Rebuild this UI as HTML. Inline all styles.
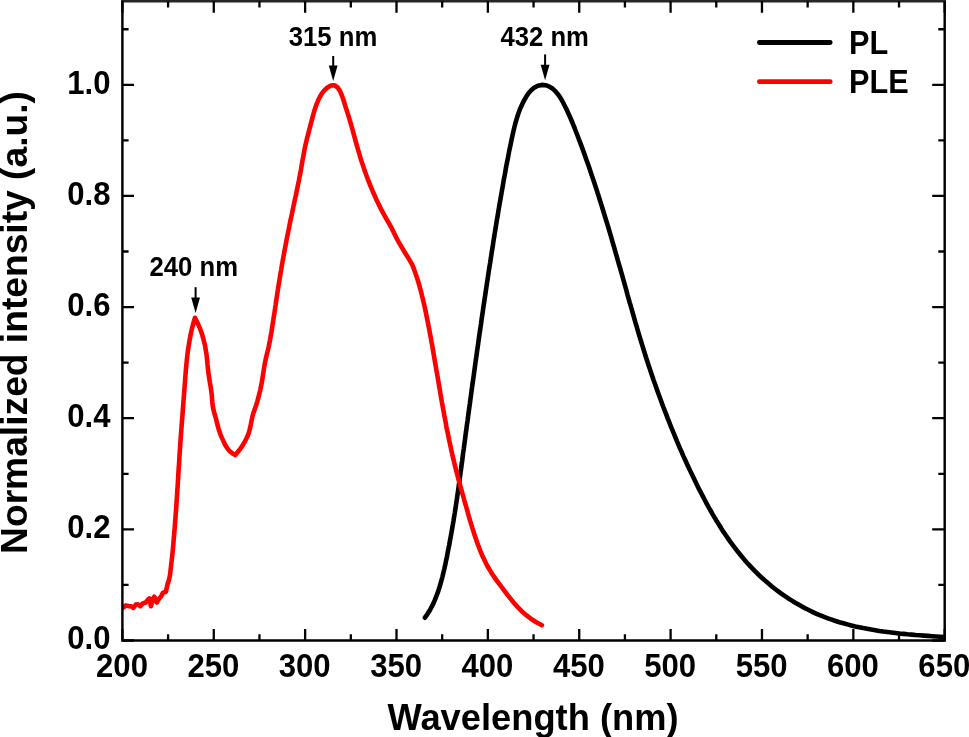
<!DOCTYPE html>
<html><head><meta charset="utf-8"><title>PL / PLE spectra</title>
<style>
html,body{margin:0;padding:0;background:#fff;}
body{width:969px;height:737px;overflow:hidden;}
svg{display:block;will-change:transform;}
text{font-family:"Liberation Sans",sans-serif;font-weight:bold;fill:#000;}
</style></head><body>
<svg width="969" height="737" viewBox="0 0 969 737">
<rect width="969" height="737" fill="#fff"/>
<clipPath id="plot"><rect x="122.4" y="1.2" width="822.30" height="639.30"/></clipPath>
<g clip-path="url(#plot)">
<polyline points="424.9,617.7 427.3,614.3 429.5,610.8 431.5,607.2 433.3,603.6 434.9,599.9 436.4,596.2 437.8,592.4 439.1,588.6 440.2,584.8 441.3,580.9 442.4,577.0 443.3,573.0 444.3,569.1 445.2,565.1 446.0,561.1 446.9,557.1 447.6,553.0 448.4,549.0 449.2,545.0 449.9,541.0 450.7,536.9 451.4,532.9 452.1,528.9 452.8,524.9 453.5,520.9 454.1,516.8 454.8,512.8 455.4,508.8 456.0,504.8 456.6,500.8 457.2,496.8 457.8,492.7 458.4,488.7 458.9,484.7 459.5,480.7 460.0,476.7 460.5,472.6 461.1,468.6 461.6,464.6 462.2,460.6 462.7,456.5 463.2,452.5 463.8,448.5 464.3,444.5 464.9,440.4 465.4,436.4 465.9,432.4 466.5,428.3 467.0,424.3 467.6,420.3 468.1,416.2 468.7,412.2 469.2,408.1 469.8,404.1 470.3,400.1 470.9,396.0 471.4,392.0 472.0,387.9 472.5,383.9 473.1,379.9 473.7,375.8 474.2,371.8 474.8,367.7 475.3,363.7 475.9,359.7 476.5,355.6 477.0,351.6 477.6,347.6 478.2,343.5 478.7,339.5 479.3,335.4 479.9,331.4 480.5,327.4 481.1,323.4 481.6,319.3 482.2,315.3 482.8,311.3 483.4,307.2 484.0,303.2 484.6,299.2 485.2,295.2 485.8,291.2 486.4,287.1 487.0,283.1 487.6,279.1 488.2,275.1 488.8,271.1 489.4,267.1 490.1,263.1 490.7,259.1 491.3,255.1 491.9,251.1 492.6,247.0 493.2,243.0 493.8,239.0 494.5,235.0 495.1,231.0 495.8,227.0 496.4,223.0 497.1,219.0 497.8,215.0 498.4,211.0 499.1,206.9 499.8,202.9 500.5,198.9 501.2,194.8 501.9,190.8 502.6,186.8 503.3,182.7 504.0,178.7 504.8,174.6 505.5,170.6 506.2,166.5 507.0,162.5 507.8,158.5 508.6,154.4 509.3,150.4 510.2,146.4 511.0,142.5 511.8,138.5 512.7,134.6 513.6,130.6 514.5,126.8 515.5,122.9 516.6,119.1 517.8,115.3 519.1,111.5 520.6,107.7 522.3,104.0 524.1,100.4 526.2,96.8 528.5,93.3 531.2,90.2 534.3,87.6 537.9,85.8 541.8,84.9 545.7,85.2 549.4,86.6 552.8,88.8 555.8,91.7 558.5,94.9 560.8,98.4 562.8,102.0 564.7,105.7 566.5,109.3 568.2,113.0 569.9,116.7 571.5,120.5 573.0,124.2 574.6,128.0 576.0,131.7 577.5,135.5 578.9,139.3 580.4,143.1 581.8,146.9 583.2,150.8 584.6,154.6 585.9,158.4 587.3,162.3 588.7,166.1 590.0,170.0 591.3,173.9 592.6,177.8 593.9,181.6 595.2,185.5 596.5,189.4 597.7,193.3 599.0,197.2 600.2,201.1 601.4,204.9 602.6,208.8 603.8,212.7 605.0,216.6 606.2,220.5 607.4,224.4 608.6,228.3 609.7,232.2 610.9,236.2 612.0,240.1 613.1,244.0 614.3,247.9 615.4,251.8 616.5,255.7 617.6,259.6 618.7,263.5 619.9,267.4 621.0,271.3 622.1,275.2 623.2,279.1 624.3,283.1 625.4,287.0 626.5,290.9 627.5,294.8 628.6,298.7 629.7,302.6 630.9,306.5 632.0,310.4 633.1,314.3 634.2,318.2 635.3,322.1 636.5,326.0 637.6,329.9 638.7,333.7 639.9,337.6 641.1,341.5 642.3,345.4 643.5,349.3 644.7,353.1 645.9,357.0 647.2,360.9 648.4,364.7 649.7,368.6 651.0,372.5 652.3,376.3 653.6,380.2 655.0,384.0 656.3,387.8 657.7,391.7 659.1,395.5 660.5,399.3 661.9,403.2 663.3,407.0 664.8,410.8 666.3,414.6 667.7,418.4 669.2,422.2 670.7,426.0 672.3,429.8 673.8,433.5 675.4,437.3 676.9,441.1 678.5,444.8 680.1,448.6 681.8,452.3 683.4,456.1 685.1,459.8 686.8,463.5 688.5,467.2 690.2,470.9 692.0,474.6 693.8,478.3 695.6,482.0 697.4,485.7 699.2,489.4 701.1,493.0 703.0,496.6 704.9,500.3 706.8,503.9 708.8,507.5 710.8,511.0 712.8,514.6 714.9,518.1 717.0,521.6 719.2,525.0 721.3,528.5 723.5,531.9 725.8,535.2 728.1,538.6 730.4,541.9 732.8,545.1 735.3,548.4 737.7,551.6 740.3,554.7 742.8,557.8 745.5,560.9 748.1,563.9 750.9,566.9 753.7,569.8 756.5,572.6 759.4,575.5 762.4,578.2 765.4,580.9 768.5,583.6 771.6,586.2 774.8,588.7 778.0,591.2 781.3,593.6 784.6,595.9 788.0,598.2 791.5,600.4 794.9,602.5 798.5,604.6 802.0,606.6 805.6,608.5 809.2,610.3 812.9,612.1 816.6,613.8 820.4,615.4 824.1,616.9 827.9,618.3 831.8,619.7 835.6,621.0 839.5,622.2 843.4,623.3 847.4,624.4 851.3,625.4 855.3,626.4 859.2,627.2 863.2,628.1 867.2,628.8 871.3,629.6 875.3,630.2 879.3,630.9 883.3,631.5 887.4,632.0 891.4,632.5 895.5,633.0 899.5,633.5 903.5,633.9 907.6,634.3 911.6,634.6 915.7,635.0 919.7,635.3 923.8,635.6 927.9,635.9 931.9,636.2 936.0,636.5 940.0,636.8 944.1,637.1" fill="none" stroke="#000" stroke-width="4.6" stroke-linejoin="round" stroke-linecap="round"/>
<polyline points="122.4,607.6 123.4,607.5 125.8,605.4 128.7,606.1 131.2,606.2 133.3,607.9 135.8,604.6 137.8,604.2 140.3,606.2 142.8,603.4 145.7,602.5 147.7,600.0 149.4,598.4 151.0,606.2 152.7,599.6 154.3,596.7 156.8,602.5 158.9,598.8 160.9,596.7 163.0,592.6 165.9,591.8 167.6,583.9 168.8,580.6 170.0,574.9 170.6,569.7 171.2,564.4 171.8,559.2 172.4,554.0 172.9,548.7 173.4,543.5 173.8,538.2 174.3,533.0 174.7,527.7 175.1,522.4 175.5,517.2 175.9,511.9 176.3,506.6 176.6,501.4 177.0,496.1 177.3,490.8 177.7,485.5 178.0,480.2 178.3,475.0 178.6,469.7 179.0,464.4 179.3,459.1 179.6,453.8 180.0,448.6 180.3,443.3 180.7,438.0 181.1,432.7 181.5,427.4 181.9,422.2 182.3,416.9 182.7,411.6 183.1,406.4 183.5,401.1 183.9,395.9 184.3,390.6 184.7,385.4 185.1,380.1 185.5,374.9 185.9,369.7 186.4,364.5 186.9,359.3 187.5,354.0 188.2,348.8 189.0,343.6 189.9,338.5 190.9,333.3 192.1,328.1 193.4,323.0 195.0,317.8 196.7,321.2 198.3,324.6 199.8,328.1 201.1,331.6 202.3,335.1 203.3,338.7 204.2,342.3 205.1,345.9 205.7,349.6 206.3,353.3 206.8,357.0 207.2,360.7 207.5,364.4 207.9,368.2 208.3,371.9 208.8,375.7 209.4,379.4 210.0,383.2 210.7,386.9 211.2,390.7 211.7,394.4 212.0,398.1 212.3,401.8 212.7,405.5 213.3,409.1 214.3,412.8 215.3,416.4 216.3,420.0 217.2,423.6 218.1,427.2 219.2,430.8 220.4,434.3 221.9,437.9 223.5,441.4 225.1,444.8 227.0,447.9 229.2,450.7 232.0,453.1 235.2,455.1 237.8,452.0 240.2,448.8 242.5,445.6 244.5,442.2 246.3,438.7 247.9,435.2 249.2,431.5 250.1,427.9 250.9,424.1 251.6,420.4 252.4,416.6 253.5,412.7 254.9,408.9 256.2,405.1 257.4,401.2 258.4,397.4 259.4,393.5 260.3,389.7 261.1,385.8 261.9,382.0 262.5,378.1 263.1,374.2 263.7,370.4 264.3,366.5 265.0,362.6 265.8,358.8 266.7,354.9 267.7,351.0 268.6,347.2 269.4,343.3 270.1,339.4 270.8,335.5 271.5,331.7 272.1,327.8 272.7,323.9 273.3,320.0 273.9,316.2 274.5,312.3 275.1,308.4 275.7,304.5 276.2,300.6 276.8,296.8 277.4,292.9 278.0,289.0 278.6,285.1 279.3,281.2 279.9,277.4 280.5,273.5 281.2,269.6 281.8,265.7 282.5,261.8 283.2,258.0 283.9,254.1 284.6,250.2 285.4,246.3 286.1,242.5 286.8,238.6 287.6,234.7 288.4,230.8 289.2,226.9 289.9,223.1 290.7,219.2 291.6,215.3 292.4,211.5 293.2,207.6 294.0,203.7 294.8,199.8 295.7,196.0 296.5,192.1 297.3,188.2 298.1,184.4 298.9,180.5 299.6,176.6 300.4,172.8 301.1,168.9 301.7,165.1 302.4,161.2 303.1,157.4 303.8,153.5 304.5,149.6 305.3,145.8 306.2,141.9 307.1,138.1 308.1,134.3 309.1,130.4 310.1,126.6 311.1,122.7 312.1,118.9 313.1,115.1 314.2,111.3 315.4,107.5 316.7,103.8 318.2,100.3 319.9,96.8 321.9,93.5 324.3,90.4 327.4,87.5 331.0,85.5 334.4,85.3 337.4,87.2 339.8,90.6 341.5,94.5 342.9,98.3 344.1,102.0 345.2,105.7 346.4,109.4 347.6,113.1 348.8,116.8 349.9,120.6 351.0,124.4 352.1,128.2 353.1,132.0 354.2,135.8 355.2,139.7 356.3,143.5 357.4,147.3 358.5,151.1 359.6,154.9 360.7,158.7 361.9,162.4 363.2,166.1 364.4,169.9 365.7,173.5 367.1,177.2 368.5,180.9 369.9,184.5 371.4,188.1 372.9,191.7 374.5,195.3 376.1,198.9 377.8,202.5 379.5,206.0 381.3,209.6 383.2,213.1 385.1,216.6 387.1,220.1 389.1,223.6 391.1,227.0 392.8,230.5 394.5,234.0 396.2,237.4 398.0,240.8 400.0,244.3 402.0,247.7 404.0,251.1 406.1,254.5 408.2,257.8 410.2,261.2 412.2,264.6 413.6,268.0 414.8,271.5 416.0,274.9 417.2,278.3 418.2,281.8 419.3,285.3 420.2,288.7 421.2,292.2 422.0,295.7 422.9,299.2 423.7,302.7 424.5,306.2 425.3,309.7 426.0,313.2 426.7,316.7 427.4,320.2 428.1,323.7 428.8,327.2 429.5,330.8 430.1,334.3 430.8,337.8 431.4,341.4 432.1,344.9 432.7,348.4 433.3,352.0 433.9,355.5 434.5,359.1 435.1,362.6 435.7,366.2 436.3,369.7 437.0,373.3 437.6,376.8 438.2,380.4 438.8,384.0 439.4,387.5 440.0,391.1 440.6,394.6 441.2,398.2 441.8,401.7 442.5,405.3 443.1,408.9 443.8,412.4 444.4,416.0 445.1,419.5 445.8,423.1 446.4,426.6 447.1,430.2 447.9,433.7 448.6,437.2 449.3,440.8 450.1,444.3 450.8,447.8 451.6,451.4 452.4,454.9 453.2,458.4 454.1,461.9 454.9,465.4 455.8,469.0 456.7,472.5 457.6,476.0 458.5,479.5 459.5,482.9 460.4,486.4 461.4,489.9 462.4,493.4 463.4,496.8 464.3,500.3 465.3,503.8 466.3,507.2 467.3,510.7 468.2,514.1 469.2,517.6 470.2,521.0 471.3,524.4 472.3,527.9 473.4,531.3 474.5,534.7 475.6,538.1 476.8,541.5 478.0,544.9 479.3,548.2 480.6,551.6 482.0,554.9 483.5,558.1 485.1,561.4 486.7,564.6 488.4,567.8 490.3,570.9 492.2,574.0 494.3,577.1 496.4,580.1 498.6,583.0 500.8,586.0 503.0,588.9 505.2,591.8 507.3,594.6 509.5,597.4 511.7,600.2 514.0,602.9 516.3,605.6 518.7,608.1 521.2,610.7 523.9,613.1 526.6,615.4 529.5,617.6 532.4,619.8 535.5,621.7 538.7,623.5 541.9,625.2" fill="none" stroke="#ff0000" stroke-width="4.6" stroke-linejoin="round" stroke-linecap="round"/>
</g>
<path d="M122.4 0V640.5H944.7V0" fill="none" stroke="#000" stroke-width="2.45" stroke-linejoin="miter" stroke-linecap="butt"/>
<rect x="121.18" y="0" width="824.75" height="2.5" fill="#262626"/>
<path d="M122.40 640.50V628.90M122.40 1.20V12.80M168.08 640.50V634.30M168.08 1.20V7.40M213.77 640.50V628.90M213.77 1.20V12.80M259.45 640.50V634.30M259.45 1.20V7.40M305.13 640.50V628.90M305.13 1.20V12.80M350.82 640.50V634.30M350.82 1.20V7.40M396.50 640.50V628.90M396.50 1.20V12.80M442.18 640.50V634.30M442.18 1.20V7.40M487.87 640.50V628.90M487.87 1.20V12.80M533.55 640.50V634.30M533.55 1.20V7.40M579.23 640.50V628.90M579.23 1.20V12.80M624.92 640.50V634.30M624.92 1.20V7.40M670.60 640.50V628.90M670.60 1.20V12.80M716.28 640.50V634.30M716.28 1.20V7.40M761.97 640.50V628.90M761.97 1.20V12.80M807.65 640.50V634.30M807.65 1.20V7.40M853.33 640.50V628.90M853.33 1.20V12.80M899.02 640.50V634.30M899.02 1.20V7.40M944.70 640.50V628.90M944.70 1.20V12.80M122.40 640.50H134.00M944.70 640.50H932.20M122.40 584.93H128.60M944.70 584.93H938.30M122.40 529.36H134.00M944.70 529.36H932.20M122.40 473.79H128.60M944.70 473.79H938.30M122.40 418.22H134.00M944.70 418.22H932.20M122.40 362.65H128.60M944.70 362.65H938.30M122.40 307.08H134.00M944.70 307.08H932.20M122.40 251.51H128.60M944.70 251.51H938.30M122.40 195.94H134.00M944.70 195.94H932.20M122.40 140.37H128.60M944.70 140.37H938.30M122.40 84.80H134.00M944.70 84.80H932.20M122.40 29.23H128.60M944.70 29.23H938.30" stroke="#000" stroke-width="2.3" fill="none"/>
<text transform="translate(122.00,676.80) scale(1,1.085)" text-anchor="middle" font-size="31.10">200</text><text transform="translate(213.37,676.80) scale(1,1.085)" text-anchor="middle" font-size="31.10">250</text><text transform="translate(304.73,676.80) scale(1,1.085)" text-anchor="middle" font-size="31.10">300</text><text transform="translate(396.10,676.80) scale(1,1.085)" text-anchor="middle" font-size="31.10">350</text><text transform="translate(487.47,676.80) scale(1,1.085)" text-anchor="middle" font-size="31.10">400</text><text transform="translate(578.83,676.80) scale(1,1.085)" text-anchor="middle" font-size="31.10">450</text><text transform="translate(670.20,676.80) scale(1,1.085)" text-anchor="middle" font-size="31.10">500</text><text transform="translate(761.57,676.80) scale(1,1.085)" text-anchor="middle" font-size="31.10">550</text><text transform="translate(852.93,676.80) scale(1,1.085)" text-anchor="middle" font-size="31.10">600</text><text transform="translate(944.30,676.80) scale(1,1.085)" text-anchor="middle" font-size="31.10">650</text><text transform="translate(110.50,649.20) scale(1,1.085)" text-anchor="end" font-size="31.10">0.0</text><text transform="translate(110.50,538.06) scale(1,1.085)" text-anchor="end" font-size="31.10">0.2</text><text transform="translate(110.50,426.92) scale(1,1.085)" text-anchor="end" font-size="31.10">0.4</text><text transform="translate(110.50,315.78) scale(1,1.085)" text-anchor="end" font-size="31.10">0.6</text><text transform="translate(110.50,204.64) scale(1,1.085)" text-anchor="end" font-size="31.10">0.8</text><text transform="translate(110.50,93.50) scale(1,1.085)" text-anchor="end" font-size="31.10">1.0</text>
<text transform="translate(533.00,729.60)" text-anchor="middle" font-size="36.30">Wavelength (nm)</text>
<text transform="translate(26.80,322.50) rotate(-90)" text-anchor="middle" font-size="37.20">Normalized intensity (a.u.)</text>
<text transform="translate(193.80,276.30) scale(1,1.040)" text-anchor="middle" font-size="25.70">240 nm</text>
<text transform="translate(333.00,46.00) scale(1,1.040)" text-anchor="middle" font-size="25.70">315 nm</text>
<text transform="translate(544.70,46.00) scale(1,1.040)" text-anchor="middle" font-size="25.70">432 nm</text>
<path d="M195.6 287.2V298.4" stroke="#000" stroke-width="2" fill="none"/><path d="M195.6 312.9L191.2 297.4L200.0 297.4Z" fill="#000"/>
<path d="M333.2 56.0V66.5" stroke="#000" stroke-width="2" fill="none"/><path d="M333.2 81.0L328.8 65.5L337.6 65.5Z" fill="#000"/>
<path d="M545.1 54.4V65.7" stroke="#000" stroke-width="2" fill="none"/><path d="M545.1 80.2L540.7 64.7L549.5 64.7Z" fill="#000"/>
<path d="M759.4 42.5H830.2" stroke="#000" stroke-width="4.8" stroke-linecap="round"/>
<path d="M759.4 81.7H830.2" stroke="#ff0000" stroke-width="4.8" stroke-linecap="round"/>
<text transform="translate(849.10,54.10) scale(1,1.070)" text-anchor="start" font-size="30.70">PL</text>
<text transform="translate(849.10,93.20) scale(1,1.070)" text-anchor="start" font-size="30.70">PLE</text>
</svg>
</body></html>
